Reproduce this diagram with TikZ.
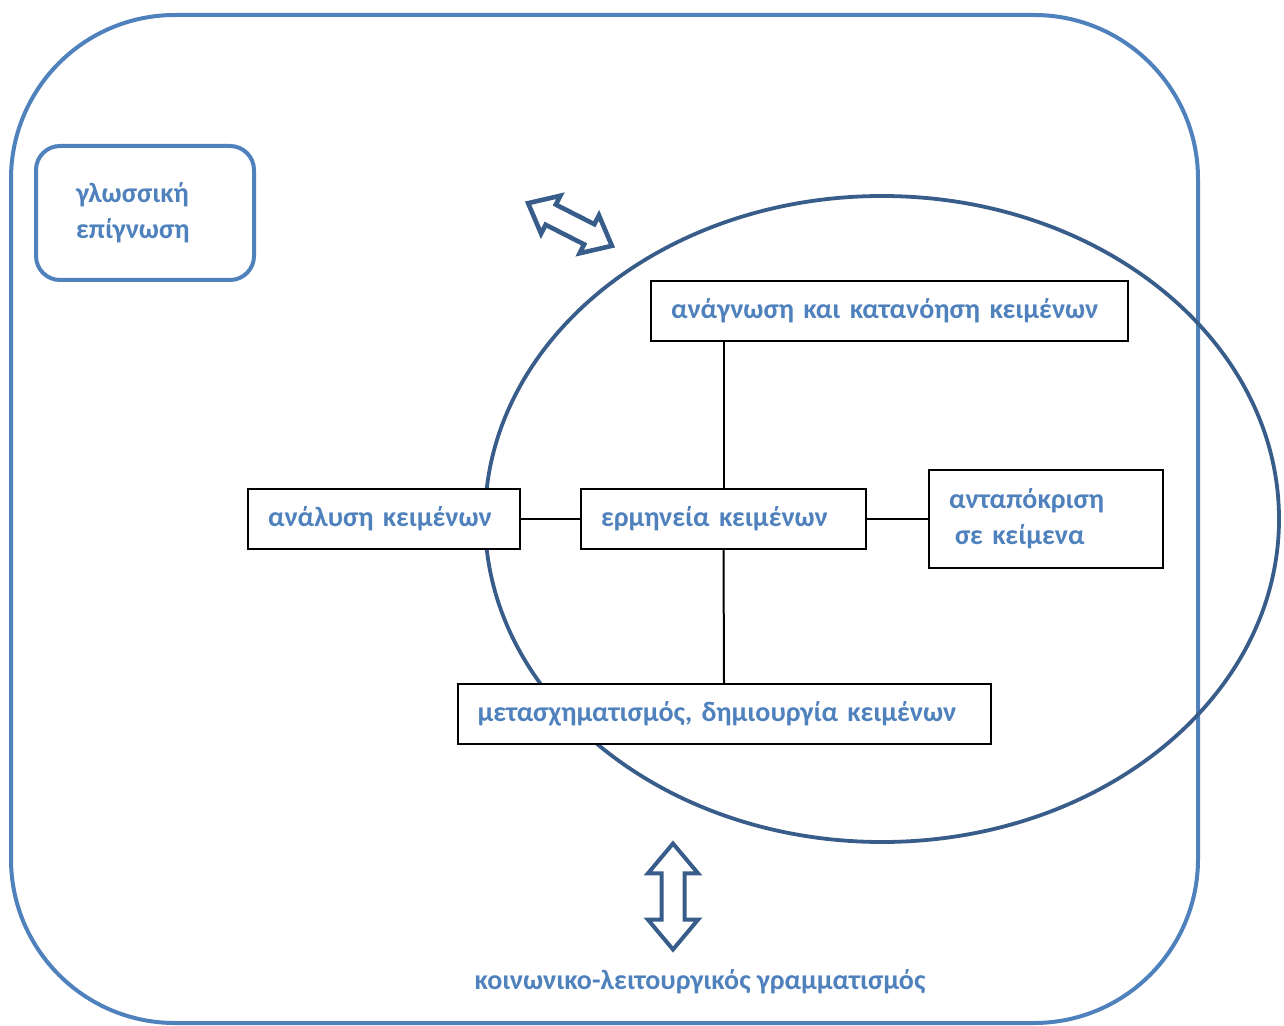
\documentclass[tikz,border=0pt]{standalone}
\usepackage{fontspec}
\setmainfont{Carlito}
\usetikzlibrary{shapes.arrows}
\definecolor{lightblue}{HTML}{4F81BD}
\definecolor{darkblue}{HTML}{385D8A}
\newcommand{\boxline}{1pt}

\begin{document}
\begin{tikzpicture}[x=0.5pt,y=-0.5pt,
    txt/.style={font=\fontsize{14}{18}\selectfont\bfseries, text=lightblue},
    skillbox/.style={txt, draw=black, line width=\boxline, fill=white,
      inner xsep=10pt, align=left, minimum height=30pt},
    dblarrow/.style={double arrow, draw=darkblue, fill=white, line width=2pt,
      inner xsep=0pt, double arrow tip angle=80}]
      \useasboundingbox (0,0) rectangle (1284,1026);
          %%  outer frame and the circle %%
      \draw[lightblue, line width=2pt, rounded corners=82pt] (11,15) rectangle (1198,1023);
      \draw[darkblue, line width=1.9pt] (882,519) ellipse [x radius=397, y radius=323];

      \node (glo) at (145,213) [txt, draw=lightblue, line width=2pt, rounded corners=12pt,
          text width=69pt, inner xsep=20pt, align=left, minimum height=67pt] {γλωσσική\\επίγνωση};

          %%  the five boxes %%
      \node (top) at (889.5,311) [skillbox, text width=218.5pt] {ανάγνωση και κατανόηση κειμένων};
      \node (cen) at (723.5,519) [skillbox, text width=122.5pt] {ερμηνεία κειμένων};
      \node (lft) at (384,519) [skillbox, text width=116pt] {ανάλυση κειμένων};
      \node (rgt) at (1046,519) [skillbox, text width=97pt, minimum height=49pt] {ανταπόκριση\\\hspace*{3pt}σε κείμενα};
      \node (bot) at (724,714) [skillbox, text width=246.5pt] {μετασχηματισμός, δημιουργία κειμένων};

      \draw[line width=\boxline] (cen.north) to (cen.north |- top.south);
      \draw[line width=\boxline] (cen.south) to (bot.north);
      \draw[line width=\boxline] (lft.east) to (cen.west) (cen.east) to (rgt.west);

          %%  double arrows %%
      \node (da) at (570,224.5) [dblarrow, line width=2.3pt, inner ysep=4.5pt, double arrow head extend=5pt,
          minimum height=47pt, rotate=-27] {};
      \node (va) at (673,896.5) [dblarrow, inner ysep=4.75pt, double arrow head extend=6.75pt,
          minimum height=53pt, rotate=90] {};

      \node (soc) at (700,982) [txt] {κοινωνικο-λειτουργικός γραμματισμός};
\end{tikzpicture}
\end{document}
